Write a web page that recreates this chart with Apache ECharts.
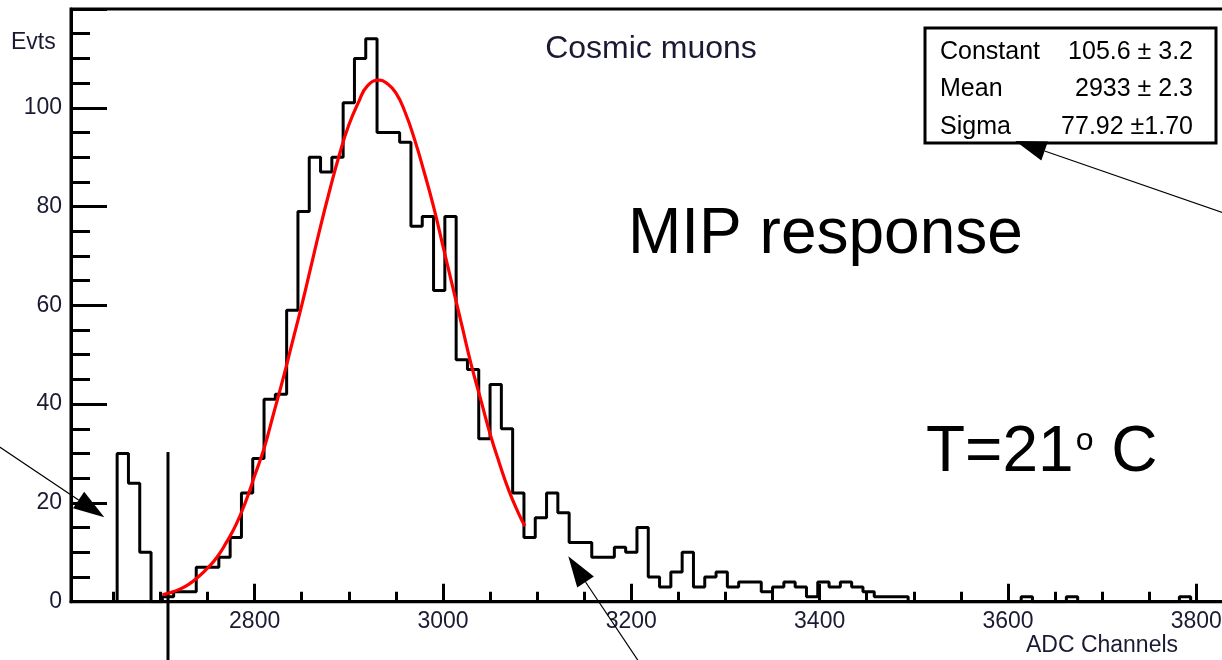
<!DOCTYPE html>
<html><head><meta charset="utf-8">
<script src="https://cdn.jsdelivr.net/npm/echarts@6/dist/echarts.min.js"></script>
<style>html,body{margin:0;padding:0;background:#fff}#c{width:1222px;height:660px}</style>
</head><body><div id="c"></div>
<script>
// ---- data ----
const binStart = 2654;
const binWidth = 12;
const counts = [
  30, 24, 10, 0, 1, 2, 2, 7, 7, 9,
  13, 22, 29, 41, 42, 59, 79, 90, 87, 90,
  101, 110, 114, 95, 95, 93, 76, 78, 63, 78,
  49, 47, 33, 44, 35, 22, 13, 17, 22, 18,
  12, 12, 9, 9, 11, 10, 15, 5, 3, 6,
  10, 3, 5, 6, 3, 4, 4, 2, 3, 4,
  3, 1, 4, 3, 4, 3, 2, 1, 1, 1,
  0, 0, 0, 0, 0, 0, 0, 0, 0, 0,
  1, 0, 0, 0, 1, 0, 0, 0, 0, 0,
  0, 0, 0, 0, 1, 0, 0, 0
];
const fitX = [2702, 2710, 2720, 2730, 2740, 2750, 2760, 2770, 2780, 2790,
  2800, 2810, 2820, 2830, 2840, 2850, 2860, 2870, 2880, 2890,
  2900, 2910, 2920, 2933, 2940, 2950, 2960, 2970, 2980, 2990,
  3000, 3010, 3020, 3030, 3040, 3050, 3060, 3070, 3080, 3087];
const fitY = [1.4, 1.8, 2.5, 3.5, 5.0, 6.8, 9.0, 12, 15.5, 20,
  25.5, 31, 38, 45, 52.5, 60, 68, 76, 83.5, 90.5,
  96.5, 101, 104.5, 105.6, 105, 103, 99, 93.5, 87, 80,
  72, 64, 56, 48, 41, 34, 28, 22.5, 18, 15.3];
const xMajorTicks = [2800, 3000, 3200, 3400, 3600, 3800];
const xMinorTicks = [2650, 2700, 2750, 2800, 2850, 2900, 2950, 3000, 3050, 3100, 3150, 3200,
  3250, 3300, 3350, 3400, 3450, 3500, 3550, 3600, 3650, 3700, 3750, 3800, 3850];
const cutX = [2708, 2708];
const cutY = [30.3, -12];
const statNames = ['Constant', 'Mean', 'Sigma'];
const statValues = ['105.6 \u00b1 3.2', '2933 \u00b1 2.3', '77.92 \u00b11.70'];
// annotation arrows (data coordinates): tails and tips
const arrowTails = [[2524, 32], [3211, -13], [3850, 77.3]];
const arrowTips = [[2640.4, 17.1], [3133.1, 9.2], [3607.8, 93.3]];

const xMin = 2605, xMax = 3850;
const FONT = "'Liberation Sans', Arial, sans-serif";
const TXT = '#1a1a33';

const chart = echarts.init(document.getElementById('c'), null, {renderer: 'canvas'});

const histData = [[binStart, 0]];
counts.forEach((c, k) => histData.push([binStart + k * binWidth, c]));
histData.push([binStart + counts.length * binWidth, 0]);
const fitData = fitX.map((x, i) => [x, fitY[i]]);
const cutData = cutX.map((x, i) => [x, cutY[i]]);

const tickStyle = {color: '#000', width: 3};
chart.setOption({
  animation: false,
  grid: {left: 71, top: 9, width: 1172.4, height: 592.7, show: true, borderColor: '#000', borderWidth: 3,
         containLabel: false, outerBoundsMode: 'none'},
  xAxis: [
    {type: 'value', min: xMin, max: xMax, position: 'bottom',
     axisLine: {show: true, lineStyle: {color: '#000', width: 3}},
     axisTick: {show: true, inside: true, length: 18, lineStyle: tickStyle, customValues: xMajorTicks},
     axisLabel: {show: true, customValues: xMajorTicks, margin: 8, color: TXT, fontSize: 23, fontFamily: FONT,
                 formatter: v => String(v)},
     splitLine: {show: false}},
    {type: 'value', min: xMin, max: xMax, position: 'bottom', gridIndex: 0,
     axisLine: {show: false},
     axisTick: {show: true, inside: true, length: 10, lineStyle: tickStyle, customValues: xMinorTicks},
     axisLabel: {show: false}, splitLine: {show: false}}
  ],
  yAxis: {type: 'value', min: 0, max: 120, interval: 20,
    axisLine: {show: true, lineStyle: {color: '#000', width: 3}},
    axisTick: {show: true, inside: true, length: 36, lineStyle: tickStyle},
    minorTick: {show: true, splitNumber: 4, length: 19, lineStyle: tickStyle},
    axisLabel: {showMaxLabel: false, margin: 9, color: TXT, fontSize: 23, fontFamily: FONT, padding: [14, 0, 0, 0],
                formatter: v => String(v)},
    splitLine: {show: false}, minorSplitLine: {show: false}},
  series: [
    {type: 'line', xAxisIndex: 0, data: histData, step: 'end', symbol: 'none', showSymbol: false,
     lineStyle: {color: '#000', width: 3}, z: 2},
    {type: 'line', xAxisIndex: 0, data: fitData, smooth: true, symbol: 'none', showSymbol: false,
     lineStyle: {color: '#ff0000', width: 3.2}, z: 3},
    {type: 'line', xAxisIndex: 0, data: cutData, symbol: 'none', showSymbol: false, clip: false,
     lineStyle: {color: '#000', width: 3}, z: 2}
  ]
});

function px(p) { return chart.convertToPixel({xAxisIndex: 0, yAxisIndex: 0}, p); }
const graphics = [];
// arrows
arrowTails.forEach((t, i) => {
  const S = px(t), T = px(arrowTips[i]);
  const dx = T[0] - S[0], dy = T[1] - S[1];
  const len = Math.sqrt(dx * dx + dy * dy);
  const ux = dx / len, uy = dy / len;
  const L = 31, hw = 10;
  const B = [T[0] - ux * L, T[1] - uy * L];
  graphics.push({type: 'line', shape: {x1: S[0], y1: S[1], x2: B[0], y2: B[1]},
    style: {stroke: '#000', lineWidth: 1.2}, z: 10});
  graphics.push({type: 'polygon', shape: {points: [T, [B[0] - uy * hw, B[1] + ux * hw], [B[0] + uy * hw, B[1] - ux * hw]]},
    style: {fill: '#000'}, z: 10});
});
// stats box
graphics.push({type: 'rect', shape: {x: 925, y: 28, width: 291, height: 115},
  style: {fill: '#fff', stroke: '#000', lineWidth: 3}, z: 5});
statNames.forEach((n, i) => {
  const y = 52 + i * 37.5;
  graphics.push({type: 'text', x: 940, y: y, z: 6,
    style: {text: n, font: '25px ' + FONT, fill: '#000', textAlign: 'left', textVerticalAlign: 'middle'}});
  graphics.push({type: 'text', x: 1193, y: y, z: 6,
    style: {text: statValues[i], font: '25px ' + FONT, fill: '#000', textAlign: 'right', textVerticalAlign: 'middle'}});
});
// texts
graphics.push({type: 'text', x: 651, y: 49, z: 6,
  style: {text: 'Cosmic muons', font: '32px ' + FONT, fill: TXT, textAlign: 'center', textVerticalAlign: 'middle'}});
graphics.push({type: 'text', x: 11, y: 43, z: 6,
  style: {text: 'Evts', font: '23px ' + FONT, fill: TXT, textAlign: 'left', textVerticalAlign: 'middle'}});
graphics.push({type: 'text', x: 1102, y: 646, z: 6,
  style: {text: 'ADC Channels', font: '23px ' + FONT, fill: TXT, textAlign: 'center', textVerticalAlign: 'middle'}});
graphics.push({type: 'text', x: 628, y: 235, z: 6,
  style: {text: 'MIP response', font: '64px ' + FONT, fill: '#000', textAlign: 'left', textVerticalAlign: 'middle'}});
graphics.push({type: 'text', x: 926, y: 453, z: 6,
  style: {text: '{a|T=21}{b|o}{a| C}', textAlign: 'left', textVerticalAlign: 'middle',
    rich: {a: {font: '64px ' + FONT, fill: '#000'},
           b: {font: '32px ' + FONT, fill: '#000', verticalAlign: 'top', padding: [4, 0, 0, 2]}}}});
chart.setOption({graphic: graphics});
</script>
</body></html>
